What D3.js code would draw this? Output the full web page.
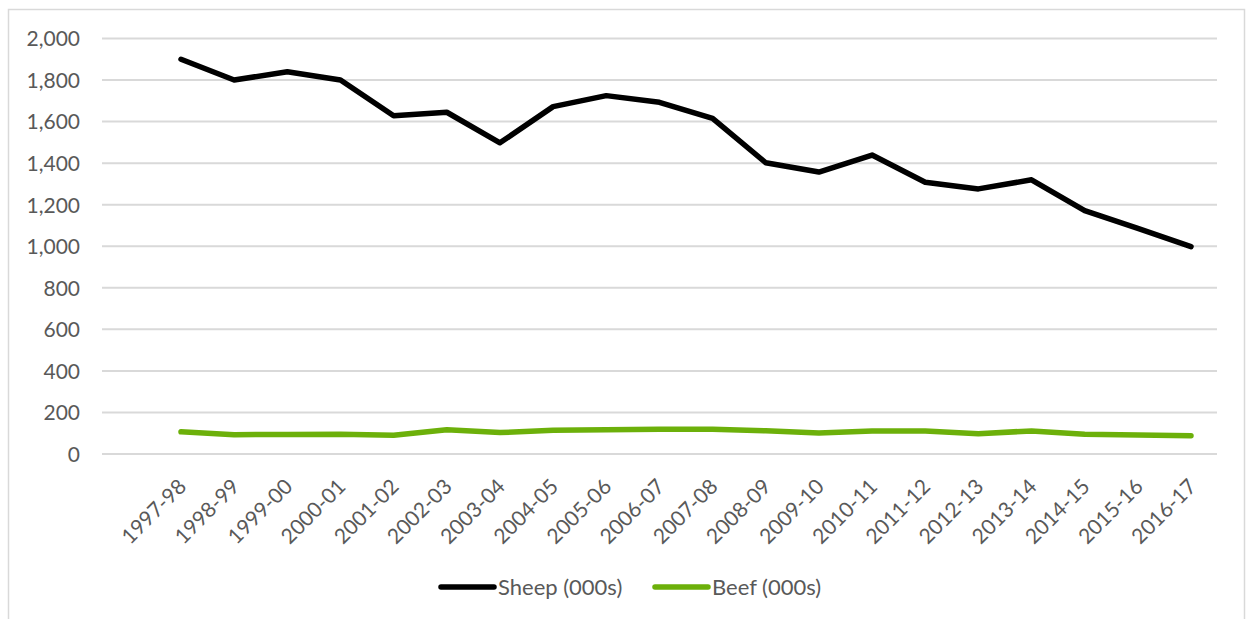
<!DOCTYPE html>
<html>
<head>
<meta charset="utf-8">
<script src="https://cdn.jsdelivr.net/npm/d3@7"></script>
<style>
  html, body { margin: 0; padding: 0; background: #fff; }
  svg { display: block; font-family: Lato, "Open Sans", sans-serif; }
</style>
</head>
<body>
<svg id="chart" width="1246" height="619"></svg>
<script>
// Livestock numbers by financial year (thousands)
const years = ["1997-98","1998-99","1999-00","2000-01","2001-02","2002-03","2003-04",
  "2004-05","2005-06","2006-07","2007-08","2008-09","2009-10","2010-11","2011-12",
  "2012-13","2013-14","2014-15","2015-16","2016-17"];
const sheep = [1900,1800,1840,1800,1628,1645,1498,1672,1725,1693,1616,1402,1357,1439,1308,1276,1320,1171,1086,998];
const beef = [107,93,94,95,90,117,103,114,117,119,119,112,101,111,111,98,111,95,91,88];
const yTicks = [0,200,400,600,800,1000,1200,1400,1600,1800,2000];
const seriesNames = ["Sheep (000s)", "Beef (000s)"];
const seriesColors = ["#000000", "#6cb00a"];

const svg = d3.select("#chart");
const W = 1246, H = 619;

// outer chart frame
svg.append("rect")
  .attr("x", 8.5).attr("y", 9.5)
  .attr("width", W - 9 - 1).attr("height", H)
  .attr("fill", "#fff").attr("stroke", "#d9d9d9").attr("stroke-width", 1.5);

const gridLeft = 102, gridRight = 1217;
const y = d3.scaleLinear().domain([0, 2000]).range([454, 38.5]);
const x = d3.scalePoint().domain(years).range([181, 1191]);

// horizontal gridlines
svg.append("g").selectAll("line").data(yTicks).join("line")
  .attr("x1", gridLeft).attr("x2", gridRight)
  .attr("y1", d => y(d)).attr("y2", d => y(d))
  .attr("stroke", "#d9d9d9").attr("stroke-width", 2);

// y axis labels
const yAxis = d3.axisLeft(y).tickValues(yTicks).tickSize(0).tickPadding(0)
  .tickFormat(d3.format(","));
svg.append("g").attr("transform", "translate(80,0)").call(yAxis)
  .call(g => g.select(".domain").remove())
  .selectAll("text")
  .attr("font-family", "Lato, 'Open Sans', sans-serif")
  .attr("font-size", 21).attr("fill", "#595959").attr("dy", "0.35em");

// x axis labels, rotated
const xAxis = d3.axisBottom(x).tickSize(0).tickPadding(0);
svg.append("g").attr("transform", "translate(0,454)").call(xAxis)
  .call(g => g.select(".domain").remove())
  .selectAll("text")
  .attr("font-family", "Lato, 'Open Sans', sans-serif")
  .attr("font-size", 21).attr("fill", "#595959")
  .attr("text-anchor", "end")
  .attr("y", 0).attr("dy", 0)
  .attr("transform", "translate(6,34) rotate(-45)");

// series lines
const line = d3.line().x((d, i) => x(years[i])).y(d => y(d));
[sheep, beef].forEach((vals, k) => {
  svg.append("path").datum(vals)
    .attr("d", line)
    .attr("fill", "none")
    .attr("stroke", seriesColors[k])
    .attr("stroke-width", 5.5)
    .attr("stroke-linejoin", "round")
    .attr("stroke-linecap", "round");
});

// legend
const legendX = [441, 655];
const legendY = 587;
seriesNames.forEach((name, k) => {
  const g = svg.append("g").attr("transform", `translate(${legendX[k]},${legendY})`);
  g.append("line").attr("x1", 0).attr("x2", 53).attr("y1", 0).attr("y2", 0)
    .attr("stroke", seriesColors[k]).attr("stroke-width", 5.5).attr("stroke-linecap", "round");
  g.append("text").attr("x", 57).attr("y", 0).attr("dy", "0.35em")
    .attr("font-size", 22).attr("fill", "#595959").text(name);
});
</script>
</body>
</html>
